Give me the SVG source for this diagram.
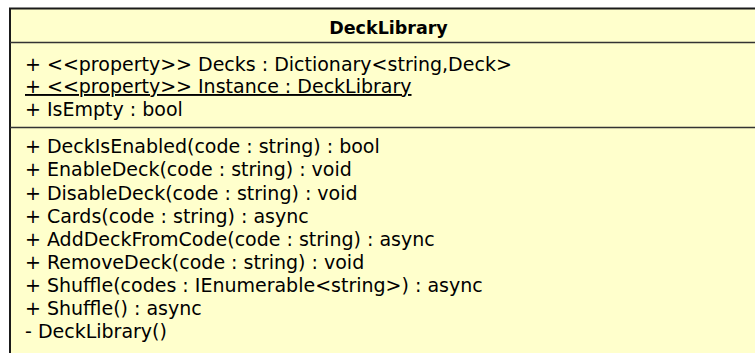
<svg xmlns="http://www.w3.org/2000/svg" width="755" height="353" viewBox="0 0 755 353">
  <style>
    .box { fill: #FFFFCC; stroke: #1a1a1a; stroke-width: 2; }
    .sep { stroke: #333333; stroke-width: 1.6; }
    .title { font-family: "DejaVu Sans", "Liberation Sans", sans-serif; font-size: 17.5px; font-weight: bold; fill: #000; text-anchor: middle; }
    .m { font-family: "DejaVu Sans", "Liberation Sans", sans-serif; font-size: 19px; fill: #000; }
    .u { text-decoration: underline; }
  </style>
  <rect width="755" height="353" fill="#FFFFFF"/>
  <g id="DeckLibrary">
    <rect class="box" x="10" y="8.5" width="756" height="360"/>
    <text class="title" x="388.5" y="33.5">DeckLibrary</text>
    <line class="sep" x1="10" y1="42.5" x2="766" y2="42.5"/>
    <g id="attributes">
      <text class="m" x="25" y="70.5">+ &lt;&lt;property&gt;&gt; Decks : Dictionary&lt;string,Deck&gt;</text>
      <text class="m u" x="25" y="93">+ &lt;&lt;property&gt;&gt; Instance : DeckLibrary</text>
      <text class="m" x="25" y="115.5">+ IsEmpty : bool</text>
    </g>
    <line class="sep" x1="10" y1="127.5" x2="766" y2="127.5"/>
    <g id="operations">
      <text class="m" x="25" y="153.3">+ DeckIsEnabled(code : string) : bool</text>
      <text class="m" x="25" y="176.4">+ EnableDeck(code : string) : void</text>
      <text class="m" x="25" y="199.5">+ DisableDeck(code : string) : void</text>
      <text class="m" x="25" y="222.6">+ Cards(code : string) : async</text>
      <text class="m" x="25" y="245.7">+ AddDeckFromCode(code : string) : async</text>
      <text class="m" x="25" y="268.8">+ RemoveDeck(code : string) : void</text>
      <text class="m" x="25" y="291.9">+ Shuffle(codes : IEnumerable&lt;string&gt;) : async</text>
      <text class="m" x="25" y="315">+ Shuffle() : async</text>
      <text class="m" x="25" y="338.1">- DeckLibrary()</text>
    </g>
  </g>
  <g id="connectors"/>
</svg>
